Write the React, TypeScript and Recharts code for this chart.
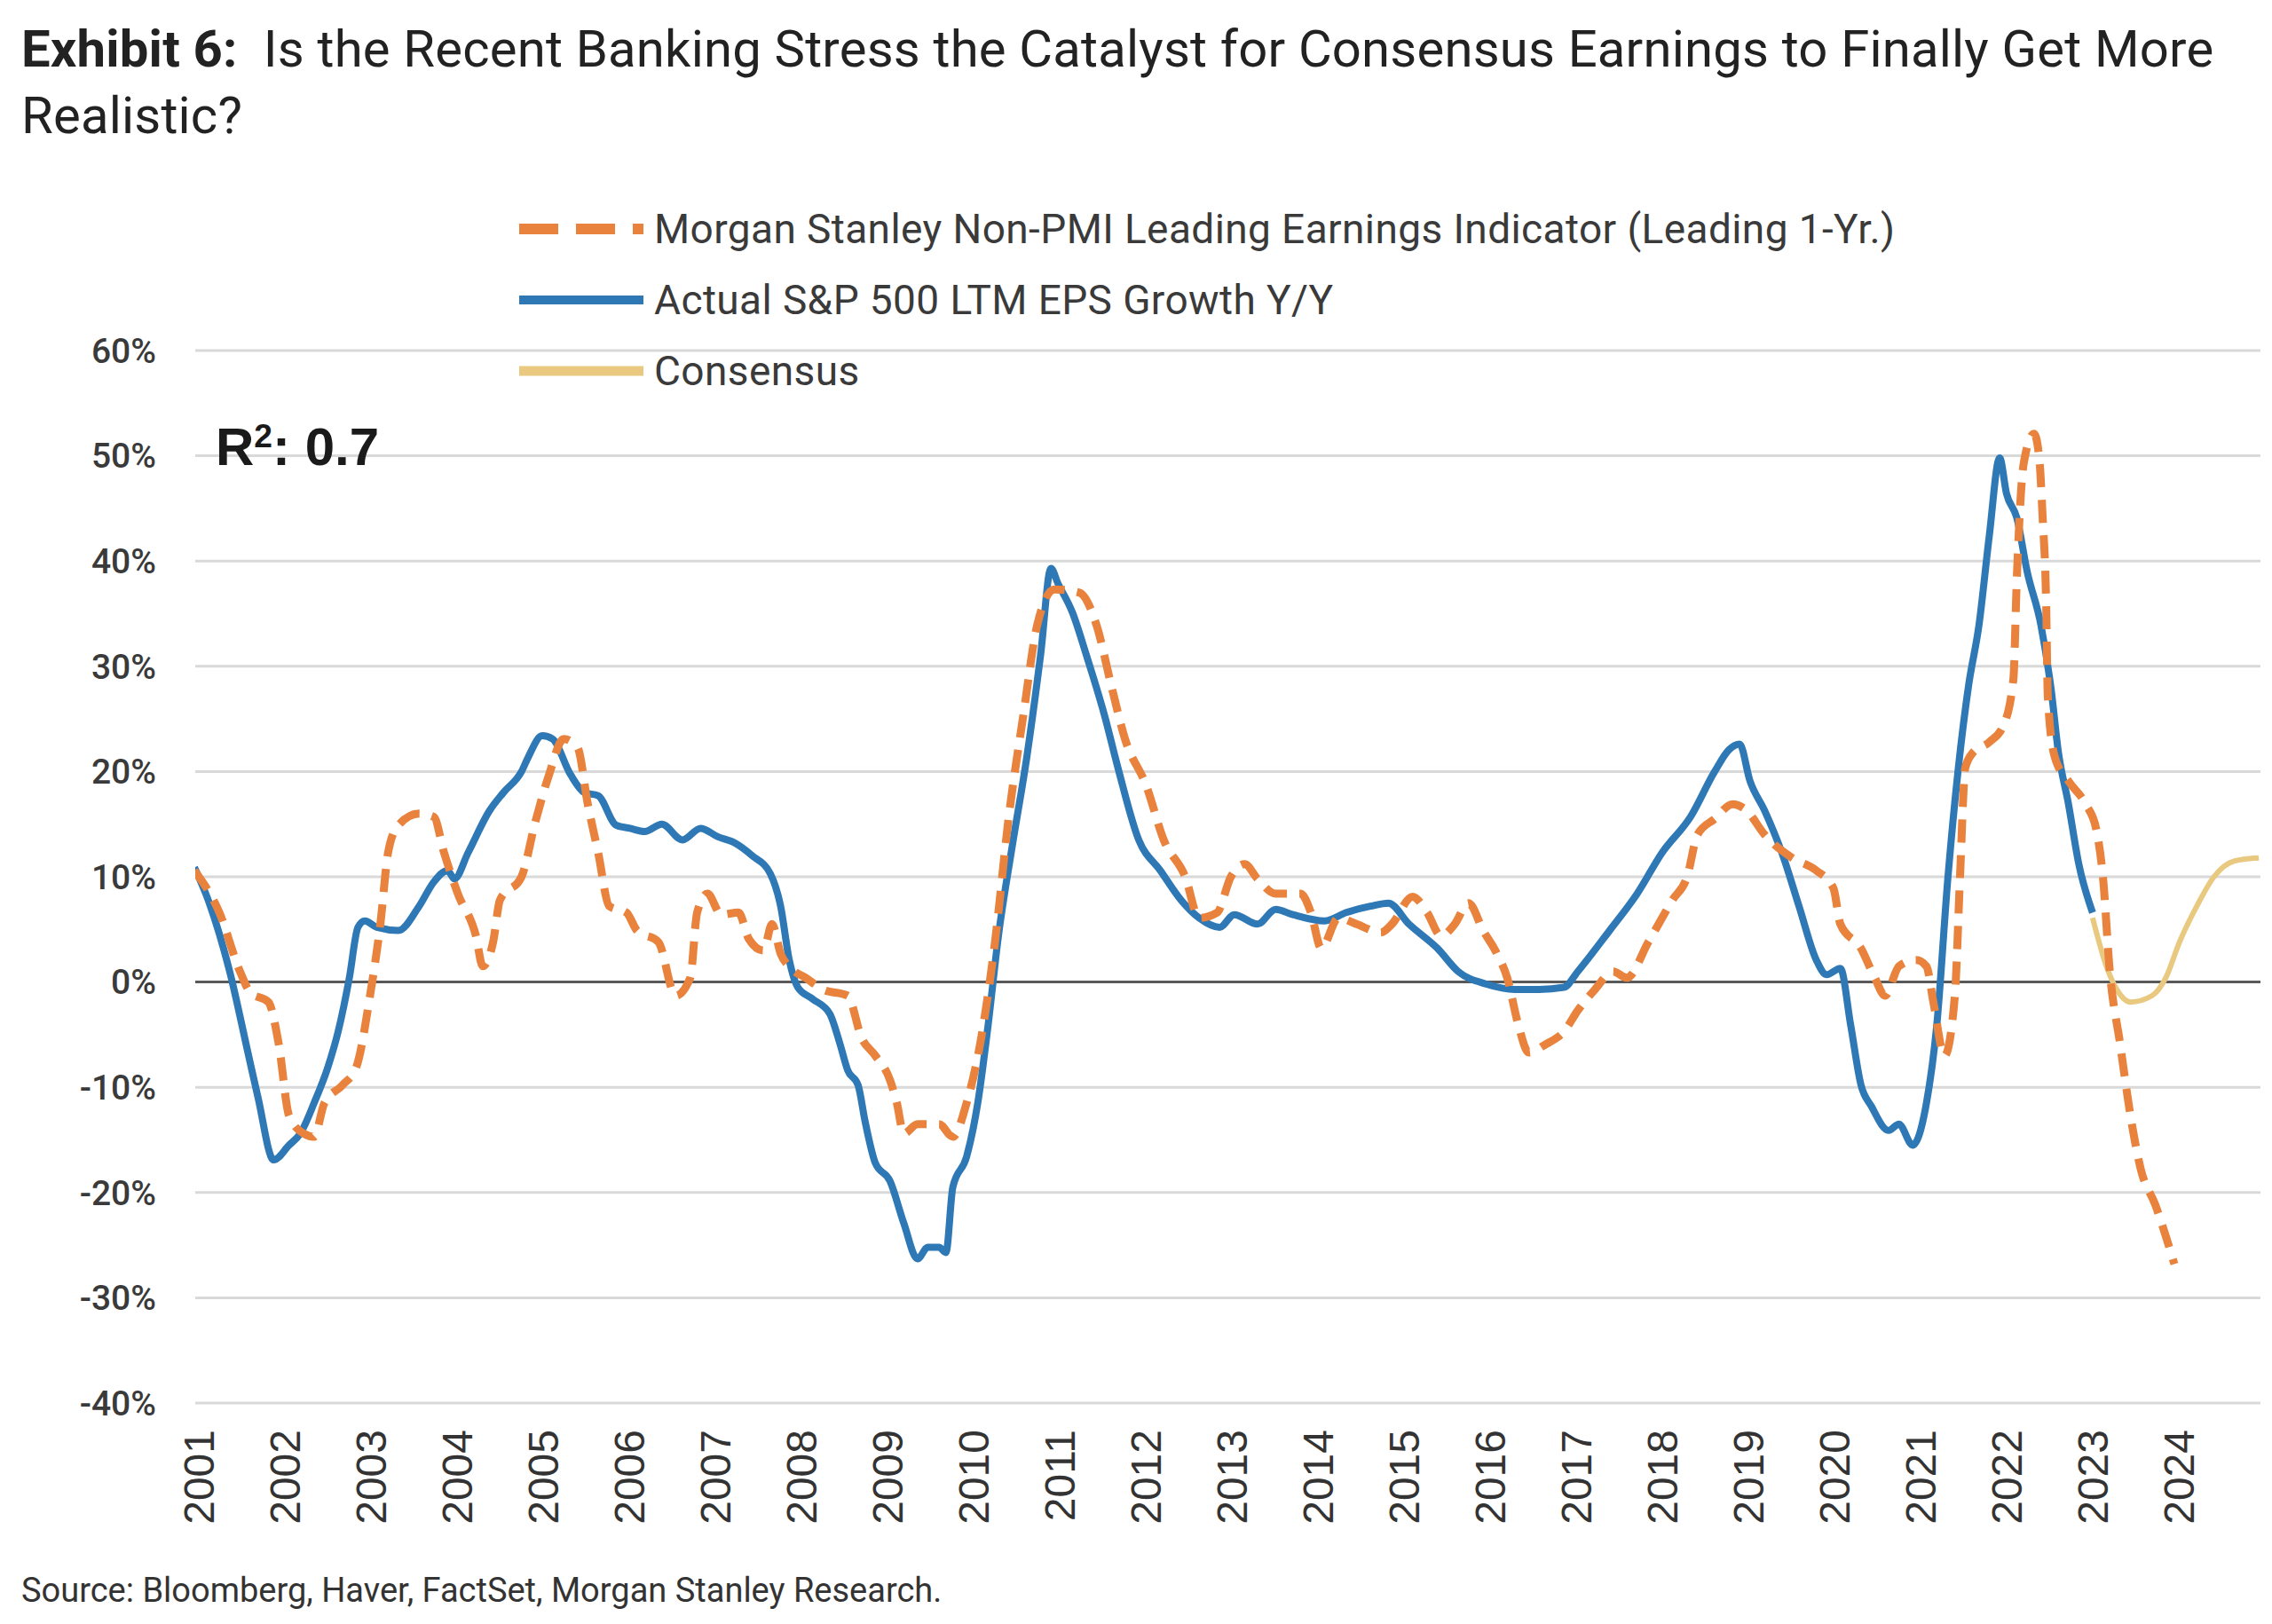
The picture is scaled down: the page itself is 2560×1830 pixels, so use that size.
import React from 'react';
import {
  CartesianGrid,
  Line,
  LineChart,
  ReferenceLine,
  XAxis,
  YAxis,
} from 'recharts';

// [year as decimal, % growth]
const actualEps: [number, number][] = [
  [2000.95, 10.9], [2001.11, 7.8], [2001.36, 1], [2001.58, -7], [2001.69, -11],
  [2001.87, -16.9], [2002.05, -15.5], [2002.18, -14.4], [2002.34, -11.5], [2002.5, -8.1],
  [2002.62, -4.7], [2002.75, 0.4], [2002.85, 5.2], [2002.93, 5.8], [2003.07, 5.2],
  [2003.32, 4.9], [2003.56, 7.2], [2003.73, 9.5], [2003.89, 10.6], [2003.97, 9.8],
  [2004.13, 12.3], [2004.38, 16.3], [2004.54, 18], [2004.75, 20], [2004.83, 21.4],
  [2004.99, 23.4], [2005.11, 23.1], [2005.32, 19.7], [2005.48, 18], [2005.64, 17.7],
  [2005.85, 14.9], [2006.01, 14.6], [2006.18, 14.3], [2006.38, 15], [2006.62, 13.5],
  [2006.83, 14.6], [2007.03, 13.8], [2007.23, 13.2], [2007.43, 12], [2007.64, 10.3],
  [2007.76, 7.2], [2007.86, 2.1], [2007.96, -0.5], [2008.13, -1.6], [2008.33, -3],
  [2008.45, -5.9], [2008.54, -8.4], [2008.66, -9.8], [2008.74, -13.2], [2008.86, -17.2],
  [2009.03, -18.9], [2009.19, -22.9], [2009.35, -26.3], [2009.47, -25.2], [2009.6, -25.2],
  [2009.68, -25.7], [2009.76, -19.5], [2009.92, -16.6], [2010.05, -11.5], [2010.17, -4.1],
  [2010.29, 4.4], [2010.45, 12.9], [2010.62, 21.4], [2010.78, 31.1], [2010.9, 39.3],
  [2010.98, 37.9], [2011.15, 35.1], [2011.31, 31.1], [2011.52, 25.4], [2011.68, 20.3],
  [2011.92, 13.5], [2012.17, 10.6], [2012.41, 7.8], [2012.62, 6.1], [2012.86, 5.2],
  [2013.03, 6.4], [2013.3, 5.5], [2013.51, 6.9], [2013.71, 6.4], [2014.08, 5.8],
  [2014.33, 6.6], [2014.61, 7.2], [2014.82, 7.5], [2015.06, 5.5], [2015.39, 3.2],
  [2015.63, 1], [2015.96, -0.2], [2016.29, -0.7], [2016.57, -0.7], [2016.86, -0.5],
  [2017.02, 1], [2017.39, 4.9], [2017.71, 8.4], [2018.0, 12.3], [2018.33, 15.7],
  [2018.61, 20], [2018.78, 22.1], [2018.9, 22.6], [2019.02, 19.1], [2019.19, 16.3],
  [2019.39, 12.3], [2019.59, 7.2], [2019.79, 2.1], [2019.91, 0.7], [2020.07, 1.3],
  [2020.19, -4.1], [2020.31, -9.8], [2020.43, -11.8], [2020.63, -14.1], [2020.75, -13.5],
  [2020.91, -15.5], [2021.07, -11.5], [2021.19, -4.1], [2021.32, 10], [2021.44, 20.3],
  [2021.56, 28.2], [2021.68, 33.9], [2021.8, 42.4], [2021.92, 49.8], [2022.0, 46.4],
  [2022.12, 44.1], [2022.24, 39], [2022.4, 33.9], [2022.52, 27.7], [2022.6, 22],
  [2022.72, 16.9], [2022.84, 11.2], [2023.0, 6.6],
];

const leadingIndicator: [number, number][] = [
  [2000.95, 10.6], [2001.24, 6.6], [2001.48, 1], [2001.6, -1], [2001.81, -1.9],
  [2001.93, -5.9], [2002.05, -12.7], [2002.22, -14.4], [2002.34, -14.7], [2002.46, -11.5],
  [2002.67, -9.8], [2002.83, -8.1], [2002.99, -1.3], [2003.11, 5.5], [2003.2, 12.3],
  [2003.32, 14.9], [2003.56, 16], [2003.73, 15.7], [2003.85, 12.3], [2004.01, 8.4],
  [2004.22, 4.4], [2004.3, 1.5], [2004.42, 3.8], [2004.5, 7.8], [2004.75, 10],
  [2004.91, 15.2], [2005.07, 19.7], [2005.24, 23.1], [2005.4, 22.3], [2005.52, 16.9],
  [2005.64, 12.3], [2005.77, 7.2], [2005.97, 6.6], [2006.09, 4.9], [2006.34, 3.8],
  [2006.54, -1.3], [2006.71, 0.4], [2006.79, 6.6], [2006.91, 8.4], [2007.07, 6.4],
  [2007.27, 6.6], [2007.39, 4.1], [2007.56, 3], [2007.66, 5.5], [2007.76, 2.7],
  [2007.88, 1.3], [2008.05, 0.4], [2008.25, -0.7], [2008.54, -1.3], [2008.7, -5.3],
  [2008.86, -7], [2009.03, -9.3], [2009.11, -11.5], [2009.19, -14.4], [2009.35, -13.5],
  [2009.6, -13.5], [2009.76, -14.7], [2009.92, -11.5], [2010.09, -5.3], [2010.25, 3.8],
  [2010.41, 15.7], [2010.58, 25.4], [2010.74, 33.9], [2010.94, 37.3], [2011.23, 37],
  [2011.43, 33.9], [2011.6, 28.2], [2011.76, 23.1], [2012.01, 18.6], [2012.21, 13.5],
  [2012.46, 10], [2012.62, 6.1], [2012.83, 6.6], [2012.99, 10], [2013.15, 11.2],
  [2013.3, 9.8], [2013.51, 8.4], [2013.8, 8.4], [2013.92, 6.6], [2014.04, 3.2],
  [2014.24, 6.1], [2014.45, 5.5], [2014.73, 4.7], [2014.86, 5.5], [2015.1, 8.1],
  [2015.27, 6.6], [2015.43, 4.4], [2015.59, 5.5], [2015.75, 7.5], [2015.92, 4.9],
  [2016.08, 2.7], [2016.2, 0.4], [2016.33, -4.1], [2016.45, -6.7], [2016.65, -5.9],
  [2016.86, -4.7], [2017.02, -2.7], [2017.22, -0.7], [2017.43, 1], [2017.59, 0.4],
  [2017.84, 3.8], [2018.12, 7.8], [2018.29, 10], [2018.41, 14], [2018.61, 15.5],
  [2018.82, 16.9], [2018.98, 16.3], [2019.19, 14], [2019.51, 11.8], [2019.79, 10.6],
  [2019.99, 8.9], [2020.07, 5.5], [2020.31, 3.2], [2020.47, 0.4], [2020.59, -1.3],
  [2020.75, 1.5], [2020.95, 2.1], [2021.07, 1.5], [2021.15, -1.9], [2021.28, -7],
  [2021.4, -1.3], [2021.46, 10], [2021.52, 20.3], [2021.6, 21.7], [2021.8, 22.8],
  [2021.96, 24.3], [2022.08, 28.8], [2022.12, 38.4], [2022.2, 49.3], [2022.32, 52.1],
  [2022.38, 49.8], [2022.42, 44.1], [2022.46, 36.2], [2022.48, 27.1], [2022.56, 21.4],
  [2022.72, 19.1], [2022.92, 16.9], [2023.04, 14.6], [2023.12, 10], [2023.2, 1],
  [2023.32, -5.9], [2023.44, -12.7], [2023.56, -17.8], [2023.73, -21.2], [2023.95, -26.8],
];

const consensus: [number, number][] = [
  [2023.0, 6.1], [2023.16, 1.5], [2023.28, -0.7], [2023.44, -1.9], [2023.69, -1.3],
  [2023.85, 0.4], [2024.01, 3.8], [2024.21, 7.2], [2024.41, 10], [2024.65, 11.5],
  [2024.93, 11.8],
];

const yearTicks = [
  2001, 2002, 2003, 2004, 2005, 2006, 2007, 2008, 2009, 2010, 2011, 2012,
  2013, 2014, 2015, 2016, 2017, 2018, 2019, 2020, 2021, 2022, 2023, 2024,
];
const pctTicks = [-40, -30, -20, -10, 0, 10, 20, 30, 40, 50, 60];

const toRows = (pts: [number, number][]) => pts.map(([t, v]) => ({ t, v }));

const BLUE = '#2e78b5';
const ORANGE = '#e8823c';
const TAN = '#e8c97f';

const YearTick = (props: any) => {
  const { x, y, payload } = props;
  return (
    <g transform={`translate(${x},${y})`}>
      <text
        transform="rotate(-90)"
        textAnchor="end"
        dy="0.36em"
        fill="#333"
        fontSize={48}
        fontFamily="'Liberation Sans', Arial, sans-serif"
      >
        {payload.value}
      </text>
    </g>
  );
};

const legendItems = [
  { label: 'Morgan Stanley Non-PMI Leading Earnings Indicator (Leading 1-Yr.)', color: ORANGE, dash: '44 20', width: 12 },
  { label: 'Actual S&P 500 LTM EPS Growth Y/Y', color: BLUE, dash: undefined, width: 10 },
  { label: 'Consensus', color: TAN, dash: undefined, width: 11 },
];

export default function App() {
  return (
    <div
      style={{
        position: 'relative',
        width: 2544,
        height: 1812,
        background: '#fff',
        fontFamily: "Roboto, 'Noto Sans', sans-serif",
        color: '#222',
      }}
    >
      <div
        style={{
          position: 'absolute',
          left: 16,
          top: 10,
          fontSize: 58,
          letterSpacing: 0.2,
          lineHeight: '75px',
          width: 2530,
          whiteSpace: 'nowrap',
        }}
      >
        <b>Exhibit 6:</b>&nbsp; Is the Recent Banking Stress the Catalyst for Consensus Earnings to Finally Get More
        <br />
        Realistic?
      </div>

      <LineChart
        width={2544}
        height={1760}
        margin={{ top: 387, right: 5, bottom: 37, left: 0 }}
      >
        <CartesianGrid horizontal vertical={false} stroke="#d9d9d9" strokeWidth={3} />
        <XAxis
          dataKey="t"
          type="number"
          domain={[2000.96, 2024.95]}
          ticks={yearTicks}
          allowDataOverflow
          axisLine={false}
          tickLine={false}
          tickSize={0}
          tickMargin={30}
          height={150}
          interval={0}
          tick={<YearTick />}
        />
        <YAxis
          type="number"
          domain={[-40, 60]}
          ticks={pctTicks}
          tickFormatter={(v) => `${v}%`}
          axisLine={false}
          tickLine={false}
          tickSize={6}
          tickMargin={38}
          width={212}
          interval={0}
          tick={{ fill: '#3a3a3a', fontSize: 39, fontWeight: 500, fontFamily: 'Roboto, sans-serif' }}
        />
        <ReferenceLine y={0} stroke="#595959" strokeWidth={3} />
        <Line
          data={toRows(actualEps)}
          dataKey="v"
          type="monotone"
          stroke={BLUE}
          strokeWidth={8}
          dot={false}
          activeDot={false}
          isAnimationActive={false}
        />
        <Line
          data={toRows(consensus)}
          dataKey="v"
          type="monotone"
          stroke={TAN}
          strokeWidth={6}
          dot={false}
          activeDot={false}
          isAnimationActive={false}
        />
        <Line
          data={toRows(leadingIndicator)}
          dataKey="v"
          type="monotone"
          stroke={ORANGE}
          strokeWidth={9}
          strokeDasharray="26 14"
          dot={false}
          activeDot={false}
          isAnimationActive={false}
        />
      </LineChart>

      {legendItems.map((item, i) => (
        <div
          key={item.label}
          style={{
            position: 'absolute',
            left: 577,
            top: 218 + i * 80,
            height: 64,
            display: 'flex',
            alignItems: 'center',
            fontSize: 46,
            letterSpacing: 0.4,
            color: '#3a3a3a',
            whiteSpace: 'nowrap',
          }}
        >
          <svg width={140} height={20} style={{ marginRight: 12 }}>
            <line
              x1={0}
              y1={10}
              x2={140}
              y2={10}
              stroke={item.color}
              strokeWidth={item.width}
              strokeDasharray={item.dash}
            />
          </svg>
          {item.label}
        </div>
      ))}

      <div
        style={{
          position: 'absolute',
          left: 235,
          top: 466,
          fontSize: 60,
          lineHeight: '60px',
          fontWeight: 700,
          fontFamily: "'Liberation Sans', Arial, sans-serif",
          color: '#1a1a1a',
        }}
      >
        R<span style={{ fontSize: '0.62em', position: 'relative', top: '-0.55em' }}>2</span>: 0.7
      </div>

      <div
        style={{
          position: 'absolute',
          left: 16,
          top: 1762,
          fontSize: 38,
          lineHeight: '44px',
          color: '#333',
        }}
      >
        Source: Bloomberg, Haver, FactSet, Morgan Stanley Research.
      </div>
    </div>
  );
}
